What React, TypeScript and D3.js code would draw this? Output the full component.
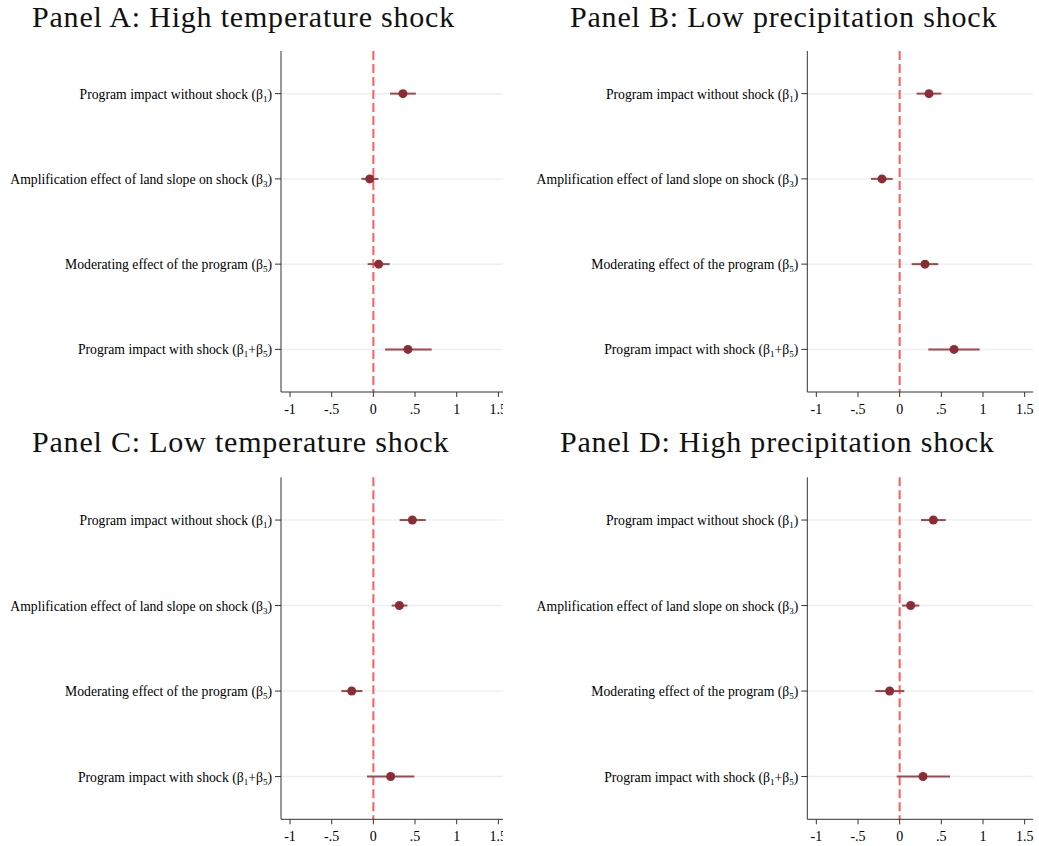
import React from 'react'
import * as d3 from 'd3'

// coefficient rows (top to bottom); subscripts marked with _
const ROW_LABELS = [
  'Program impact without shock (β_1)',
  'Amplification effect of land slope on shock (β_3)',
  'Moderating effect of the program (β_5)',
  'Program impact with shock (β_1+β_5)',
]

const X_TICKS = [-1, -0.5, 0, 0.5, 1, 1.5]

const PANEL_TITLES = [
  'Panel A: High temperature shock',
  'Panel B: Low precipitation shock',
  'Panel C: Low temperature shock',
  'Panel D: High precipitation shock',
]

// point estimates and confidence bounds per panel
const EST_A = [0.355, -0.044, 0.064, 0.415]
const LO_A = [0.2, -0.144, -0.068, 0.14]
const HI_A = [0.51, 0.06, 0.196, 0.7]

const EST_B = [0.352, -0.212, 0.304, 0.652]
const LO_B = [0.204, -0.344, 0.144, 0.344]
const HI_B = [0.5, -0.084, 0.464, 0.96]

const EST_C = [0.468, 0.312, -0.26, 0.208]
const LO_C = [0.316, 0.22, -0.384, -0.076]
const HI_C = [0.628, 0.408, -0.132, 0.492]

const EST_D = [0.404, 0.132, -0.12, 0.28]
const LO_D = [0.256, 0.028, -0.292, -0.036]
const HI_D = [0.552, 0.236, 0.056, 0.604]

const SERIF = '"Liberation Serif", "Times New Roman", serif'
const POINT_COLOR = '#8c2d36'
const CI_COLOR = '#a5464d'

function fmtTick(v: number) {
  if (v === 0) return '0'
  return String(v).replace('0.', '.')
}

function Label({ text, x, y }: { text: string; x: number; y: number }) {
  const parts = text.split(/(_\d)/).filter((p) => p.length > 0)
  return (
    <text x={x} y={y} textAnchor="end" fontFamily={SERIF} fontSize={13.7} fill="#000">
      {parts.map((p, i) =>
        p.startsWith('_') ? (
          <tspan key={i} fontSize={9} dy={3}>{p.slice(1)}</tspan>
        ) : (
          <tspan key={i} dy={i > 0 && parts[i - 1].startsWith('_') ? -3 : 0}>{p}</tspan>
        ),
      )}
    </text>
  )
}

type PanelProps = {
  id: string
  title: string
  titleX: number
  titleY: number
  axisX: number
  top: number
  bottom: number
  clipRight: number
  est: number[]
  lo: number[]
  hi: number[]
}

function Panel({ id, title, titleX, titleY, axisX, top, bottom, clipRight, est, lo, hi }: PanelProps) {
  const unit = 83.33
  const x = d3.scaleLinear().domain([-1.1, 1.6]).range([axisX + 0.7, axisX + 0.7 + 2.7 * unit])
  const y = d3.scalePoint<string>().domain(ROW_LABELS).range([top, bottom]).padding(0.5)
  const right = Math.min(x(1.6), clipRight)

  return (
    <g>
      <defs>
        <clipPath id={`clip-${id}`}>
          <rect x={0} y={0} width={clipRight} height={846} />
        </clipPath>
      </defs>
      <text x={titleX} y={titleY} fontFamily={SERIF} fontSize={30} letterSpacing={0.8} fill="#111">
        {title}
      </text>
      <g clipPath={`url(#clip-${id})`}>
        {/* grid lines */}
        {ROW_LABELS.map((r) => (
          <line key={r} x1={axisX} x2={right} y1={y(r)} y2={y(r)} stroke="#eaf0f2" strokeWidth={1.5} />
        ))}
        {/* reference line at zero */}
        <line x1={x(0)} x2={x(0)} y1={top} y2={bottom} stroke="#ff5c5c" strokeWidth={2} strokeDasharray="9,4" />
        {/* CIs and points */}
        {ROW_LABELS.map((r, i) => (
          <g key={r}>
            <line x1={x(lo[i])} x2={x(hi[i])} y1={y(r)} y2={y(r)} stroke={CI_COLOR} strokeWidth={2} />
            <circle cx={x(est[i])} cy={y(r)} r={4.5} fill={POINT_COLOR} />
          </g>
        ))}
        {/* x axis */}
        <line x1={axisX} x2={right} y1={bottom} y2={bottom} stroke="#333" strokeWidth={1} />
        {X_TICKS.map((t) => (
          <g key={t}>
            <line x1={x(t)} x2={x(t)} y1={bottom} y2={bottom + 5} stroke="#333" strokeWidth={1} />
            <text x={x(t)} y={bottom + 22} textAnchor="middle" fontFamily={SERIF} fontSize={14} fill="#000">
              {fmtTick(t)}
            </text>
          </g>
        ))}
      </g>
      {/* y axis */}
      <line x1={axisX} x2={axisX} y1={top} y2={bottom} stroke="#333" strokeWidth={1} />
      {ROW_LABELS.map((r) => (
        <g key={r}>
          <line x1={axisX - 6} x2={axisX} y1={y(r)} y2={y(r)} stroke="#333" strokeWidth={1} />
          <Label text={r} x={axisX - 9} y={(y(r) ?? 0) + 5} />
        </g>
      ))}
    </g>
  )
}

export default function App() {
  return (
    <svg
      width={1039}
      height={846}
      style={{ position: 'absolute', left: 0, top: 0, background: '#fff' }}
    >
      <rect width={1039} height={846} fill="#fff" />
      <Panel id="a" title={PANEL_TITLES[0]} titleX={32} titleY={27} axisX={281} top={51} bottom={392} clipRight={503} est={EST_A} lo={LO_A} hi={HI_A} />
      <Panel id="b" title={PANEL_TITLES[1]} titleX={570} titleY={27} axisX={807.3} top={51} bottom={392} clipRight={1039} est={EST_B} lo={LO_B} hi={HI_B} />
      <Panel id="c" title={PANEL_TITLES[2]} titleX={32} titleY={452} axisX={281} top={477.3} bottom={819.3} clipRight={503} est={EST_C} lo={LO_C} hi={HI_C} />
      <Panel id="d" title={PANEL_TITLES[3]} titleX={560} titleY={452} axisX={807.3} top={477.3} bottom={819.3} clipRight={1039} est={EST_D} lo={LO_D} hi={HI_D} />
    </svg>
  )
}
